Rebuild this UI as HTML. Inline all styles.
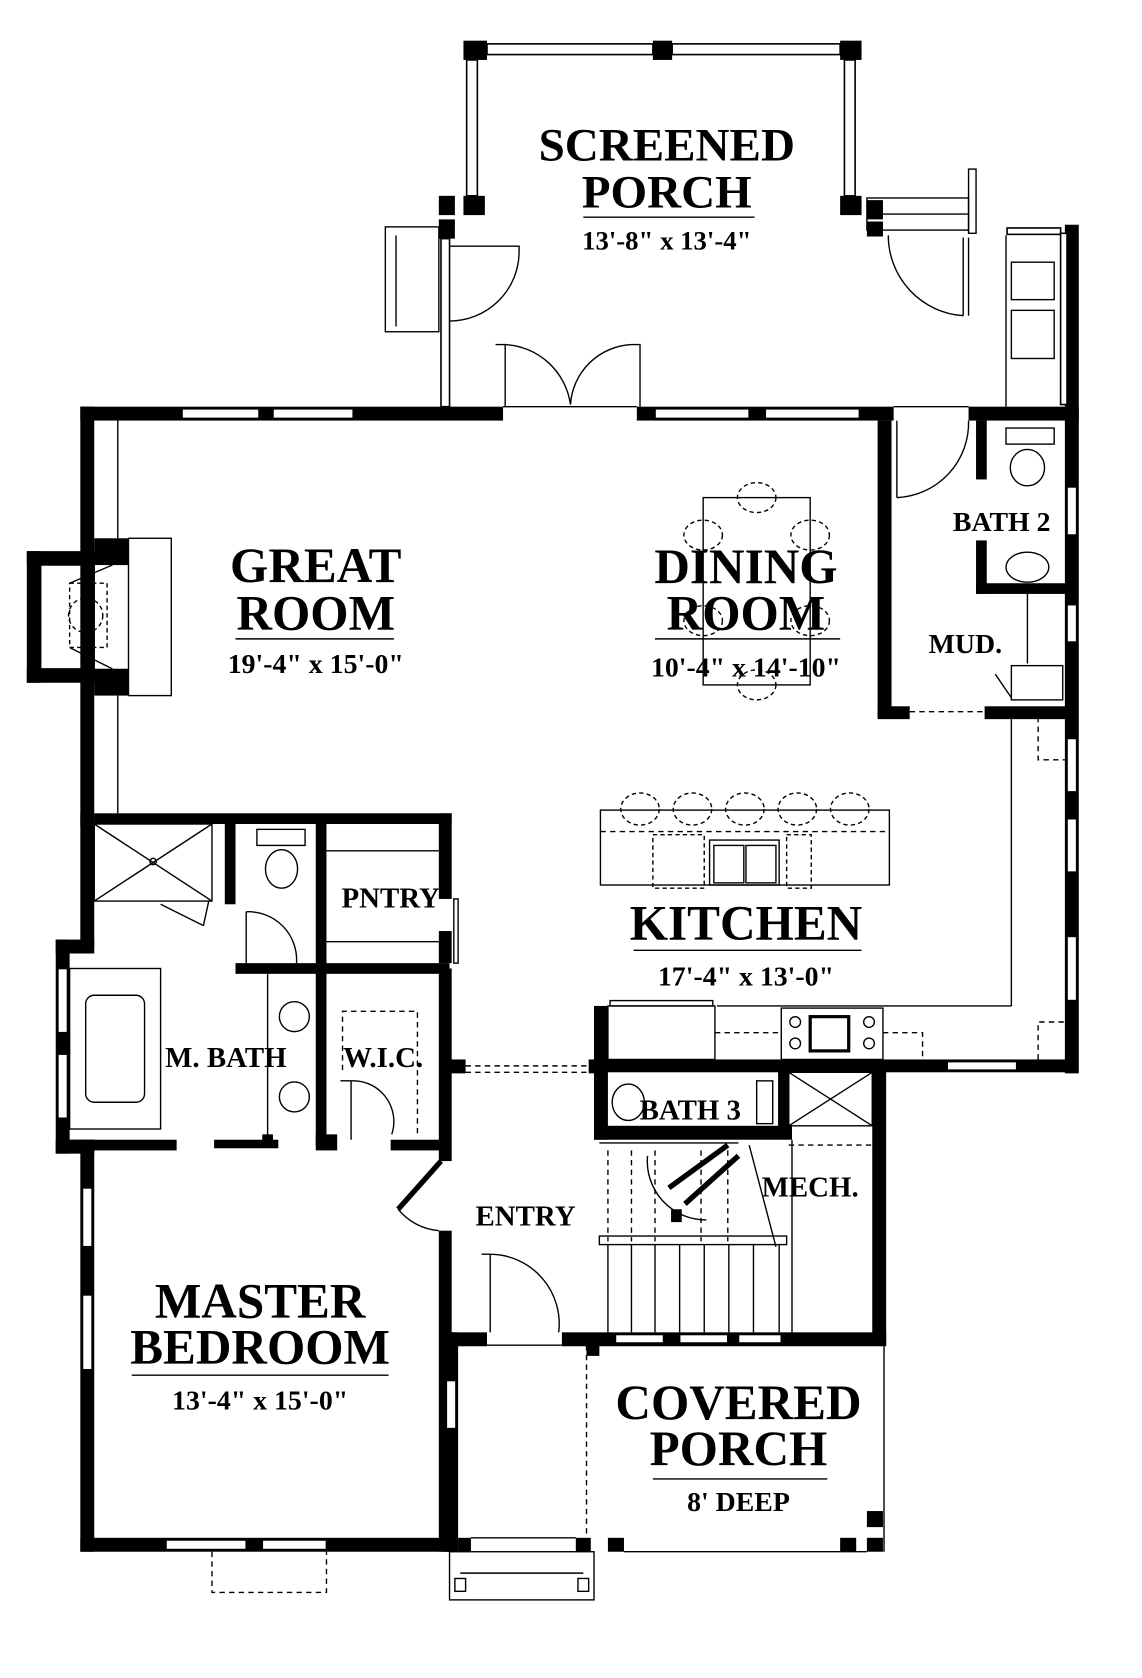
<!DOCTYPE html>
<html><head><meta charset="utf-8"><style>
html,body{margin:0;padding:0;background:#fff}
svg{display:block}
text{font-family:"Liberation Serif",serif;font-weight:bold;fill:#000;text-anchor:middle}
</style></head><body>
<svg width="1142" height="1678" viewBox="0 0 1067 1568" xmlns="http://www.w3.org/2000/svg">
<g fill="#000">
<rect x="75" y="380" width="395" height="13"/>
<rect x="595" y="380" width="240" height="13"/>
<rect x="905" y="380" width="103" height="13"/>
<rect x="75" y="380" width="13" height="392"/>
<rect x="75" y="760" width="13" height="125"/>
<rect x="52" y="878" width="36" height="13"/>
<rect x="52" y="878" width="13" height="200"/>
<rect x="52" y="1065" width="36" height="13"/>
<rect x="75" y="1065" width="13" height="385"/>
<rect x="75" y="1437" width="345" height="13"/>
<rect x="25" y="515" width="13" height="123"/>
<rect x="25" y="515" width="95" height="13"/>
<rect x="25" y="625" width="95" height="13"/>
<rect x="88" y="503" width="32" height="25"/>
<rect x="88" y="625" width="32" height="25"/>
<rect x="88" y="760" width="334" height="10"/>
<rect x="410" y="760" width="12" height="80"/>
<rect x="410" y="870" width="12" height="30"/>
<rect x="410" y="905" width="12" height="180"/>
<rect x="210" y="770" width="10" height="75"/>
<rect x="220" y="900" width="200" height="10"/>
<rect x="295" y="770" width="10" height="300"/>
<rect x="245" y="1060" width="10" height="10"/>
<rect x="65" y="1065" width="100" height="10"/>
<rect x="200" y="1065" width="60" height="8"/>
<rect x="295" y="1060" width="20" height="15"/>
<rect x="365" y="1065" width="50" height="10"/>
<rect x="410" y="1150" width="12" height="300"/>
<rect x="415" y="1245" width="40" height="13"/>
<rect x="525" y="1245" width="303" height="13"/>
<rect x="415" y="1245" width="13" height="205"/>
<rect x="995" y="210" width="13" height="793"/>
<rect x="820" y="393" width="13" height="277"/>
<rect x="820" y="660" width="30" height="12"/>
<rect x="920" y="660" width="85" height="12"/>
<rect x="912" y="393" width="10" height="55"/>
<rect x="912" y="505" width="10" height="50"/>
<rect x="912" y="545" width="85" height="10"/>
<rect x="555" y="990" width="450" height="12"/>
<rect x="555" y="940" width="13" height="125"/>
<rect x="555" y="1052" width="185" height="13"/>
<rect x="727" y="995" width="10" height="60"/>
<rect x="815" y="995" width="13" height="262"/>
<rect x="415" y="990" width="20" height="13"/>
<rect x="550" y="990" width="18" height="13"/>
<rect x="433" y="38" width="22" height="18"/>
<rect x="610" y="38" width="18" height="18"/>
<rect x="785" y="38" width="20" height="18"/>
<rect x="433" y="183" width="20" height="18"/>
<rect x="410" y="183" width="15" height="18"/>
<rect x="410" y="205" width="15" height="18"/>
<rect x="785" y="183" width="20" height="18"/>
<rect x="810" y="187" width="15" height="18"/>
<rect x="810" y="207" width="15" height="14"/>
<rect x="428" y="1437" width="12" height="13"/>
<rect x="538" y="1437" width="14" height="13"/>
<rect x="568" y="1437" width="15" height="13"/>
<rect x="785" y="1437" width="15" height="13"/>
<rect x="810" y="1437" width="15" height="13"/>
<rect x="810" y="1412" width="15" height="15"/>
<rect x="548" y="1255" width="12" height="12"/>
<rect x="627" y="1130" width="10" height="12"/>
</g>
<g fill="#fff" stroke="#000" stroke-width="1.5">
<rect x="170" y="382" width="72" height="9"/><rect x="255" y="382" width="75" height="9"/>
<rect x="612" y="382" width="88" height="9"/><rect x="715" y="382" width="88" height="9"/>
<rect x="155" y="1439" width="75" height="9"/><rect x="245" y="1439" width="60" height="9"/>
<rect x="54" y="905" width="9" height="60"/><rect x="54" y="985" width="9" height="60"/>
<rect x="77" y="1110" width="9" height="55"/><rect x="77" y="1210" width="9" height="70"/>
<rect x="997" y="455" width="9" height="45"/><rect x="997" y="565" width="9" height="35"/>
<rect x="997" y="690" width="9" height="50"/><rect x="997" y="765" width="9" height="50"/>
<rect x="997" y="875" width="9" height="60"/>
<rect x="885" y="992" width="65" height="8"/>
<rect x="417" y="1290" width="9" height="45"/>
<rect x="575" y="1247" width="45" height="8"/><rect x="635" y="1247" width="45" height="8"/><rect x="690" y="1247" width="40" height="8"/>
<rect x="455" y="41" width="155" height="10"/><rect x="628" y="41" width="157" height="10"/>
<rect x="436" y="56" width="10" height="127"/><rect x="789" y="56" width="10" height="127"/>
<rect x="412" y="223" width="8" height="157"/>
<rect x="941" y="213" width="50" height="6"/><rect x="991" y="218" width="6" height="160"/>
</g>
<g fill="none" stroke="#000" stroke-width="1.3">
<line x1="110" y1="393" x2="110" y2="503"/><line x1="110" y1="650" x2="110" y2="760"/>
<rect x="120" y="503" width="40" height="147"/>
<rect x="38" y="528" width="50" height="97"/>
<rect x="65" y="545" width="35" height="60" stroke-dasharray="4 3"/>
<circle cx="80" cy="575" r="16" stroke-dasharray="4 3"/>
<path d="M65 545 L105 528 M65 605 L105 625"/>
<rect x="360" y="212" width="50" height="98"/><line x1="370" y1="220" x2="370" y2="305"/>
<rect x="810" y="185" width="95" height="30"/><line x1="820" y1="200" x2="905" y2="200"/>
<rect x="905" y="158" width="7" height="60"/>
<line x1="905" y1="222" x2="905" y2="295"/><line x1="900" y1="222" x2="900" y2="295"/>
<path d="M420 230 L485 230 L485 235 M485 235 A65 65 0 0 1 420 300"/>
<path d="M830 220 A75 75 0 0 0 900 295"/>
<path d="M463 322 L472 322 L472 380 M472 322 A65 65 0 0 1 533 378 M590 322 A60 60 0 0 0 533 378 M590 322 L598 322 L598 380"/>
<line x1="470" y1="380" x2="595" y2="380"/>
<line x1="835" y1="380" x2="905" y2="380"/>
<rect x="945" y="245" width="40" height="35"/><rect x="945" y="290" width="40" height="45"/>
<line x1="940" y1="220" x2="940" y2="380"/>
<rect x="657" y="465" width="100" height="175"/>
<g stroke-dasharray="4 3"><ellipse cx="707" cy="465" rx="18" ry="14"/><ellipse cx="707" cy="640" rx="18" ry="14"/>
<ellipse cx="657" cy="500" rx="18" ry="14"/><ellipse cx="757" cy="500" rx="18" ry="14"/>
<ellipse cx="657" cy="580" rx="18" ry="14"/><ellipse cx="757" cy="580" rx="18" ry="14"/></g>
<path d="M838 393 L838 465 M838 465 A70 70 0 0 0 905 393"/>
<rect x="940" y="400" width="45" height="15"/><ellipse cx="960" cy="437" rx="16" ry="17"/>
<ellipse cx="960" cy="530" rx="20" ry="14"/>
<line x1="960" y1="555" x2="960" y2="620"/>
<rect x="945" y="622" width="48" height="32"/>
<path d="M930 630 L945 652"/>
<line x1="850" y1="665" x2="920" y2="665" stroke-dasharray="5 4"/>
<line x1="945" y1="672" x2="945" y2="940"/><line x1="670" y1="940" x2="945" y2="940"/>
<path d="M970 670 L970 710 L995 710" stroke-dasharray="5 4"/>
<rect x="561" y="757" width="270" height="70"/><line x1="561" y1="777" x2="831" y2="777" stroke-dasharray="5 4"/>
<g stroke-dasharray="4 3"><ellipse cx="598" cy="756" rx="18" ry="15"/><ellipse cx="647" cy="756" rx="18" ry="15"/><ellipse cx="696" cy="756" rx="18" ry="15"/><ellipse cx="745" cy="756" rx="18" ry="15"/><ellipse cx="794" cy="756" rx="18" ry="15"/>
<rect x="610" y="780" width="48" height="50"/><rect x="735" y="780" width="23" height="50"/></g>
<rect x="663" y="785" width="65" height="42"/><rect x="667" y="790" width="28" height="35"/><rect x="697" y="790" width="28" height="35"/>
<rect x="568" y="940" width="100" height="50"/><rect x="570" y="935" width="96" height="5"/>
<line x1="668" y1="965" x2="730" y2="965" stroke-dasharray="5 4"/>
<rect x="730" y="942" width="95" height="48"/><rect x="757" y="950" width="36" height="32" stroke-width="3"/>
<circle cx="743" cy="955" r="5"/><circle cx="743" cy="975" r="5"/><circle cx="812" cy="955" r="5"/><circle cx="812" cy="975" r="5"/>
<path d="M825 965 L862 965 L862 990" stroke-dasharray="5 4"/><path d="M970 990 L970 955 L995 955" stroke-dasharray="5 4"/>
<rect x="88" y="770" width="110" height="72"/><path d="M88 770 L198 842 M198 770 L88 842"/>
<circle cx="143" cy="805" r="3"/><path d="M150 845 L190 865 M195 842 L190 865" />
<rect x="65" y="905" width="85" height="150"/><rect x="80" y="930" width="55" height="100" rx="8"/>
<rect x="240" y="775" width="45" height="15"/><ellipse cx="263" cy="812" rx="15" ry="18"/>
<path d="M230 852 A45 45 0 0 1 277 900 M230 852 L230 900"/>
<line x1="250" y1="910" x2="250" y2="1065"/>
<circle cx="275" cy="950" r="14"/><circle cx="275" cy="1025" r="14"/>
<line x1="305" y1="795" x2="410" y2="795"/><line x1="305" y1="880" x2="410" y2="880"/>
<rect x="424" y="840" width="4" height="60"/>
<path d="M320 1000 L320 945 L390 945 L390 1060" stroke-dasharray="5 4"/>
<path d="M318 1010 L328 1010 L328 1065 M328 1010 A38 38 0 0 1 366 1060"/>
<path d="M412 1085 L372 1130" stroke-width="5"/>
<path d="M372 1130 A55 55 0 0 0 410 1150"/>
<line x1="435" y1="996" x2="550" y2="996" stroke-dasharray="5 4"/><line x1="435" y1="1002" x2="550" y2="1002" stroke-dasharray="5 4"/>
<path d="M450 1172 L458 1172 L458 1245 M458 1172 A65 65 0 0 1 522 1245"/>
<line x1="428" y1="1257" x2="525" y2="1257"/>
<ellipse cx="587" cy="1030" rx="15" ry="17"/><rect x="707" y="1010" width="15" height="40"/>
<rect x="737" y="1002" width="78" height="50"/><path d="M737 1002 L815 1052 M815 1002 L737 1052"/>
<line x1="737" y1="1070" x2="815" y2="1070" stroke-dasharray="5 4"/>
<g stroke-dasharray="5 4"><line x1="568" y1="1075" x2="568" y2="1160"/><line x1="590" y1="1075" x2="590" y2="1160"/><line x1="612" y1="1075" x2="612" y2="1160"/><line x1="655" y1="1075" x2="655" y2="1160"/><line x1="680" y1="1075" x2="680" y2="1160"/></g>
<line x1="560" y1="1068" x2="690" y2="1068"/>
<rect x="560" y="1155" width="175" height="8"/>
<g><line x1="568" y1="1163" x2="568" y2="1245"/><line x1="590" y1="1163" x2="590" y2="1245"/><line x1="612" y1="1163" x2="612" y2="1245"/><line x1="635" y1="1163" x2="635" y2="1245"/><line x1="658" y1="1163" x2="658" y2="1245"/><line x1="681" y1="1163" x2="681" y2="1245"/><line x1="704" y1="1163" x2="704" y2="1245"/><line x1="728" y1="1163" x2="728" y2="1245"/></g>
<path d="M625 1110 L680 1070 M640 1125 L690 1080" stroke-width="5"/>
<path d="M605 1080 A55 55 0 0 0 660 1140"/>
<path d="M700 1070 L725 1165"/>
<line x1="740" y1="1065" x2="740" y2="1245"/>
<line x1="548" y1="1257" x2="548" y2="1437" stroke-dasharray="5 4"/>
<line x1="826" y1="1257" x2="826" y2="1450"/>
<line x1="583" y1="1450" x2="810" y2="1450"/>
<line x1="440" y1="1437" x2="538" y2="1437"/>
<rect x="420" y="1450" width="135" height="45"/><rect x="425" y="1475" width="10" height="12"/><rect x="540" y="1475" width="10" height="12"/>
<line x1="430" y1="1470" x2="545" y2="1470"/>
<path d="M198 1450 L198 1488 L305 1488 L305 1450" stroke-dasharray="5 4"/>
<line x1="545" y1="203" x2="705" y2="203"/>
<line x1="220" y1="597" x2="368" y2="597"/>
<line x1="612" y1="597" x2="785" y2="597"/>
<line x1="592" y1="888" x2="805" y2="888"/>
<line x1="123" y1="1285" x2="363" y2="1285"/>
<line x1="610" y1="1382" x2="773" y2="1382"/>
</g>
<text x="623" y="150" font-size="44">SCREENED</text>
<text x="623" y="194" font-size="44">PORCH</text>
<text x="623" y="233" font-size="25">13'-8" x 13'-4"</text>
<text x="295" y="544" font-size="46">GREAT</text>
<text x="295" y="588" font-size="46">ROOM</text>
<text x="295" y="629" font-size="26">19'-4" x 15'-0"</text>
<text x="697" y="545" font-size="46">DINING</text>
<text x="697" y="588" font-size="46">ROOM</text>
<text x="697" y="632" font-size="26">10'-4" x 14'-10"</text>
<text x="936" y="496" font-size="26">BATH 2</text>
<text x="902" y="610" font-size="26">MUD.</text>
<text x="697" y="878" font-size="46">KITCHEN</text>
<text x="697" y="921" font-size="26">17'-4" x 13'-0"</text>
<text x="365" y="848" font-size="27">PNTRY</text>
<text x="211" y="997" font-size="27">M. BATH</text>
<text x="358" y="997" font-size="27">W.I.C.</text>
<text x="645" y="1046" font-size="27">BATH 3</text>
<text x="757" y="1118" font-size="27">MECH.</text>
<text x="491" y="1145" font-size="27">ENTRY</text>
<text x="243" y="1231" font-size="46">MASTER</text>
<text x="243" y="1274" font-size="46">BEDROOM</text>
<text x="243" y="1317" font-size="26">13'-4" x 15'-0"</text>
<text x="690" y="1326" font-size="46">COVERED</text>
<text x="690" y="1369" font-size="46">PORCH</text>
<text x="690" y="1412" font-size="26">8' DEEP</text>
</svg>
</body></html>
